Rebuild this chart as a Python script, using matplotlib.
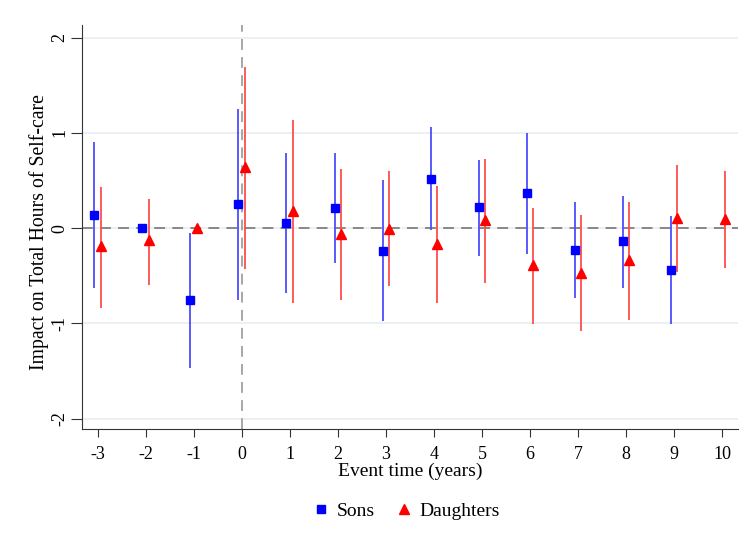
import numpy as np
import matplotlib.pyplot as plt
from matplotlib.lines import Line2D

# Event time and estimates
sons_t = [-3, -2, -1, 0, 1, 2, 3, 4, 5, 6, 7, 8, 9]
sons_est = [0.14, 0.0, -0.76, 0.25, 0.05, 0.21, -0.24, 0.52, 0.22, 0.37, -0.23, -0.14, -0.44]
sons_hi = [0.90, np.nan, -0.05, 1.25, 0.79, 0.79, 0.50, 1.06, 0.72, 1.00, 0.27, 0.34, 0.13]
sons_lo = [-0.63, np.nan, -1.47, -0.75, -0.68, -0.37, -0.98, -0.02, -0.29, -0.27, -0.73, -0.63, -1.01]

dau_t = [-3, -2, -1, 0, 1, 2, 3, 4, 5, 6, 7, 8, 9, 10]
dau_est = [-0.19, -0.13, 0.0, 0.64, 0.18, -0.06, -0.01, -0.17, 0.09, -0.39, -0.47, -0.34, 0.11, 0.10]
dau_hi = [0.43, 0.31, np.nan, 1.69, 1.14, 0.62, 0.60, 0.44, 0.73, 0.21, 0.14, 0.27, 0.66, 0.60]
dau_lo = [-0.84, -0.60, np.nan, -0.43, -0.79, -0.76, -0.61, -0.79, -0.58, -1.01, -1.08, -0.97, -0.46, -0.42]

xticks = list(range(-3, 11))
yticks = [-2, -1, 0, 1, 2]

plt.rcParams['font.family'] = ['Liberation Serif', 'DejaVu Serif']
plt.rcParams['axes.unicode_minus'] = False

fig = plt.figure(figsize=(7.45, 5.48), dpi=100)
ax = fig.add_axes([0.110, 0.217, 0.881, 0.737])

off = 0.07
st = np.array(sons_t) - off
dt = np.array(dau_t) + off

# gridlines and reference lines
for y in yticks:
    ax.axhline(y, color='#e8eef2', lw=1.2, zorder=0)
ax.axhline(0, color='#808080', lw=1.3, ls=(0, (6, 4)), zorder=1)
ax.axvline(0, color='#a0a0a0', lw=1.3, ls=(0, (6, 4)), zorder=1)

# confidence intervals
ax.vlines(st, sons_lo, sons_hi, color='#4d4dff', lw=1.3, zorder=2)
ax.vlines(dt, dau_lo, dau_hi, color='#ff4d4d', lw=1.3, zorder=2)

# point estimates
ax.plot(st, sons_est, 's', color='#0000ff', ms=5.8, zorder=3)
ax.plot(dt, dau_est, '^', color='#ff0000', ms=7, zorder=3)

ax.set_xlim(-3.33, 10.34)
ax.set_ylim(-2.11, 2.13)
ax.set_xticks(xticks)
ax.set_yticks(yticks)
ax.set_yticklabels([str(y) for y in yticks], rotation=90, va='center')
ax.tick_params(axis='both', labelsize=13, color='#333333')
ax.tick_params(axis='y', length=8, pad=2)
ax.tick_params(axis='x', length=6, pad=6)

for s in ['top', 'right']:
    ax.spines[s].set_visible(False)
for s in ['left', 'bottom']:
    ax.spines[s].set_color('#333333')

ax.set_xlabel('Event time (years)', fontsize=14, labelpad=0)
ax.set_ylabel('Impact on Total Hours of Self-care', fontsize=14.2)
ax.yaxis.set_label_coords(-0.05, 0.488)

handles = [
    Line2D([], [], marker='s', color='#0000ff', ls='none', ms=5.8),
    Line2D([], [], marker='^', color='#ff0000', ls='none', ms=7),
]
fig.legend(handles, ['Sons', 'Daughters'], loc='center', bbox_to_anchor=(0.543, 0.068),
           ncol=2, frameon=False, fontsize=14, handletextpad=0.2, columnspacing=0.9,
           handlelength=1.2)

fig.savefig('out.png', dpi=100)
